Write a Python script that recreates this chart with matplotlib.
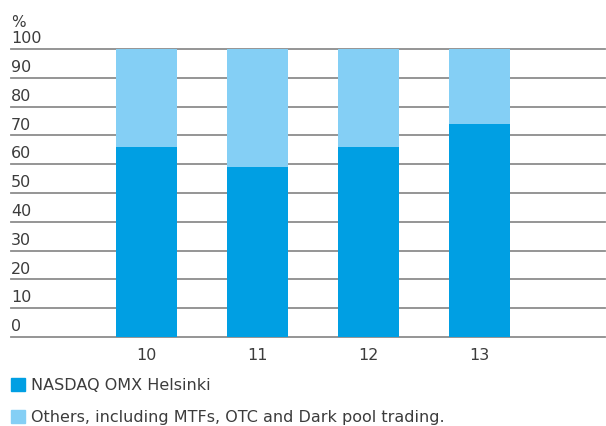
import matplotlib
matplotlib.use('Agg')
import matplotlib.pyplot as plt
from matplotlib.patches import Patch
import matplotlib.transforms as mtransforms

# data
years = ['10', '11', '12', '13']
nasdaq = [66, 59, 66, 74]
others = [34, 41, 34, 26]
yticks = [0, 10, 20, 30, 40, 50, 60, 70, 80, 90, 100]

DARK = '#009fe3'
LIGHT = '#84cff5'
TXT = '#3c3c3c'
GRID = '#8c8c8c'

plt.rcParams['font.family'] = ['DejaVu Sans']

fig = plt.figure(figsize=(6.06, 4.26), dpi=100)
ax = fig.add_axes([11 / 606, 89 / 426, 594 / 606, 288 / 426])

x = list(range(len(years)))
ax.bar(x, nasdaq, width=0.55, color=DARK, zorder=2)
ax.bar(x, others, width=0.55, bottom=nasdaq, color=LIGHT, zorder=2)

ax.set_xlim(-1.22, 4.13)
ax.set_ylim(0, 100)

trans = mtransforms.blended_transform_factory(ax.transAxes, ax.transData)
for t in yticks:
    ax.axhline(t, color=GRID, lw=1.3, zorder=1, clip_on=False)
    ax.text(0, t + 1.0, str(t), transform=trans, ha='left', va='bottom',
            fontsize=11.5, color=TXT)
ax.text(0, 106.5, '%', transform=trans, ha='left', va='bottom',
        fontsize=11, color=TXT)

for s in ax.spines.values():
    s.set_visible(False)
ax.set_yticks([])
ax.set_xticks(x)
ax.set_xticklabels(years, fontsize=11.5, color=TXT)
ax.tick_params(axis='x', length=0, pad=8)

handles = [Patch(color=DARK, label='NASDAQ OMX Helsinki'),
           Patch(color=LIGHT, label='Others, including MTFs, OTC and Dark pool trading.')]
leg = fig.legend(handles=handles, loc='upper left', bbox_to_anchor=(11 / 606, 1 - 378 / 426),
                 frameon=False, fontsize=11.5, handlelength=0.88, handleheight=0.88,
                 handletextpad=0.4, labelspacing=1.05, borderaxespad=0, borderpad=0)
for t in leg.get_texts():
    t.set_color(TXT)

fig.savefig('out.png', dpi=100)
